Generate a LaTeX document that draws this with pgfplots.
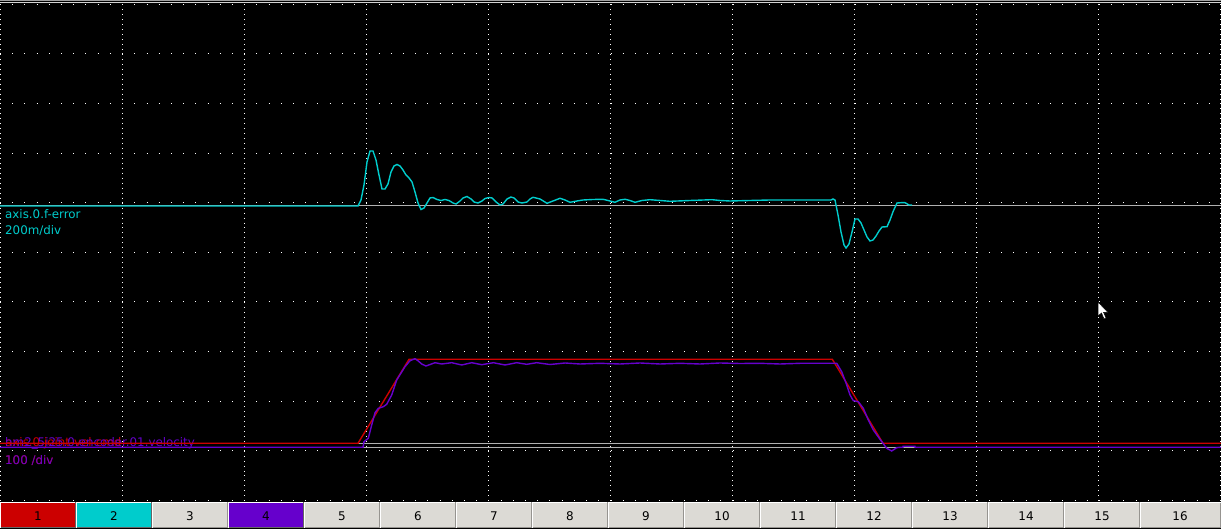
\documentclass[border=0pt]{standalone}
\usepackage{fontspec}
\setmainfont{DejaVu Sans}
\usepackage{pgfplots}
\pgfplotsset{compat=1.18}
\definecolor{trcyan}{RGB}{0,204,204}
\definecolor{trred}{RGB}{204,0,0}
\definecolor{trpurple}{RGB}{102,0,204}
\definecolor{zerogray}{RGB}{176,176,176}
\definecolor{btngray}{RGB}{220,218,213}
\definecolor{btnedge}{RGB}{150,148,144}
\tikzset{vgrid/.style={white, line width=1bp, line cap=butt, dash pattern=on 1bp off 3.96bp},
         hgrid/.style={white, line width=1bp, line cap=butt, dash pattern=on 1bp off 11.21bp}}
\newcommand\vg[1]{\draw[vgrid] (axis cs:#1,4.3) -- (axis cs:#1,501);}
\newcommand\hg[1]{\draw[hgrid] (axis cs:0,#1) -- (axis cs:1221,#1);}
\newcommand\btn[6]{% x0, x1, fill, edge, label, center
  \fill[#3] (axis cs:#1,502) rectangle (axis cs:#2,528);
  \draw[#4, line width=1bp] (axis cs:#1,527.5) -- (axis cs:#2,527.5) -- (axis cs:#2,502);
  \draw[white, line width=1bp] (axis cs:#1,527.5) -- (axis cs:#1,502.5) -- (axis cs:#2,502.5);
  \node[anchor=base, text=black, inner sep=0pt, font=\fontsize{12}{14}\selectfont] at (axis cs:#6,520) {#5};
}
\begin{document}
\begin{tikzpicture}[x=1bp,y=1bp]
\fill[black] (0,0) rectangle (1221,529);
\begin{axis}[
  at={(0,0)}, anchor=south west,
  scale only axis, width=1221bp, height=529bp,
  xmin=0, xmax=1221, ymin=0, ymax=529, y dir=reverse,
  axis line style={draw=none},
  xtick=\empty, ytick=\empty,
  clip=true,
]
% top border lines
\draw[color={rgb,255:red,160;green,160;blue,160}, line width=1bp] (axis cs:0,0.5) -- (axis cs:1221,0.5);
\draw[color={rgb,255:red,210;green,210;blue,210}, line width=1bp] (axis cs:0,2.5) -- (axis cs:1221,2.5);

% dotted graticule: 10 x 10 divisions
\vg{0.5}\vg{122.1}\vg{244.2}\vg{366.3}\vg{488.4}\vg{610.5}\vg{732.6}\vg{854.7}\vg{976.8}\vg{1098.9}\vg{1220.5}
\hg{4.3}\hg{53.9}\hg{103.5}\hg{153.1}\hg{202.7}\hg{252.3}\hg{301.9}\hg{351.5}\hg{401.1}\hg{450.7}\hg{500.3}

% channel labels
\node[anchor=base west, inner sep=0pt, text=trcyan, font=\fontsize{11.9}{14}\selectfont] at (axis cs:5,218.3) {axis.0.f-error};
\node[anchor=base west, inner sep=0pt, text=trcyan, font=\fontsize{11.9}{14}\selectfont] at (axis cs:5,235) {200m/div};
\node[anchor=base west, inner sep=0pt, text=trred, font=\fontsize{11.9}{14}\selectfont] at (axis cs:5,446.7) {axis.0.joint-vel-cmd};
\node[anchor=base west, inner sep=0pt, text=trred, font=\fontsize{11.9}{14}\selectfont] at (axis cs:5,465) {100 /div};
\node[anchor=base west, inner sep=0pt, text=trpurple, font=\fontsize{11.9}{14}\selectfont] at (axis cs:5,446.7) {hm2\_5i25.0.encoder.01.velocity};
\node[anchor=base west, inner sep=0pt, text=trpurple, font=\fontsize{11.9}{14}\selectfont] at (axis cs:5,465) {100 /div};

% zero reference lines
\addplot[zerogray, line width=1.2bp] coordinates {(0,205.5) (1221,205.5)};
\addplot[zerogray, line width=1.2bp] coordinates {(0,443.3) (1221,443.3)};
\addplot[zerogray, line width=1.2bp] coordinates {(0,447.3) (1221,447.3)};

% f-error trace
\addplot[trcyan, line width=1.4bp, sharp plot] coordinates {
(0,206) (358,206) (361,200) (364,185) (367,162) (370,151) (373,151) (376,160) (379,175)
(382,189) (385,189) (388,184) (391,172) (394,166) (397,164.5) (400,166) (403,170) (406,175)
(409,178) (412,182) (415,192) (418,203) (421,209.5) (424,208) (427,203) (430,198) (433,197.5)
(437,199.5) (441,200.5) (445,199.5) (449,200.5) (453,203) (456,204) (460,201) (463,198)
(467,196.5) (471,199) (474,202) (478,203) (482,201) (485,198.5) (489,197.5) (492,198)
(496,202) (500,205) (503,204) (507,199) (511,197) (514,198) (518,202) (522,203) (527,202)
(530,199) (533,197.3) (540,199) (547,203.3) (553,201) (560,198.3) (565,200) (570,202.3)
(577,201) (583,200) (593,199.5) (603,199.3) (610,201) (615,202.3) (620,200) (625,199.3)
(630,200.5) (635,202.3) (642,200.5) (650,199.7) (660,200.5) (670,201.3) (690,200.5)
(712,199.7) (720,200.5) (730,201) (750,200.5) (770,200) (800,200) (831,200) (833,199)
(835,200) (838,215) (841,232) (844,245) (846,248) (849,244) (852,232) (855,219) (858,219)
(861,223) (864,230) (867,237) (870,241) (873,240) (876,236) (879,231) (882,227) (887,226.7)
(890,220) (893,211.7) (897,203) (901,202.7) (905,202.7) (909,205) (912,205)
};

% commanded velocity (red)
\addplot[trred, line width=1.4bp, sharp plot] coordinates {
(0,443.3) (358,443.3) (409,359.3) (832.3,359.3) (883,443.3) (1221,443.3)
};

% encoder velocity (purple)
\addplot[trpurple, line width=1.4bp, sharp plot] coordinates {
(0,447.3) (363,447.3) (364,441.7) (368.3,438.3) (371.7,425) (375,412.7) (378.3,408.3)
(383.3,406.7) (386.7,404.3) (391.7,395) (396.7,380) (405,366.7) (410,360.7) (415,358.7)
(418.3,361) (421.7,364) (426,366) (435,362.7) (441.7,364) (451.7,362.7) (461.7,365)
(471.7,362.7) (481.7,364.7) (493.3,362.7) (505,365) (516.7,362.7) (526.7,364.3) (536.7,362.7)
(550,364.5) (565,363) (580,364) (600,363.3) (620,364) (640,363) (660,364) (680,363.3)
(700,364) (720,363) (740,363.5) (760,363.3) (780,364) (800,363.3) (820,363.3) (836.7,363.3)
(841.7,371.7) (846.7,385) (850,395) (853.3,400.7) (858.3,401.7) (863.3,408.3) (868.3,420)
(873.3,430) (880,439.3) (886.7,448.3) (891.7,451) (896.7,447.7) (900,447.3) (903,447.3)
(903,446.3) (915,446.3) (915,447.3) (1221,447.3)
};

% mouse cursor
\filldraw[fill=white, draw=black, line width=0.5bp] (axis cs:1098,302) -- (axis cs:1098,316) -- (axis cs:1101.5,313) -- (axis cs:1104,319) -- (axis cs:1106,318) -- (axis cs:1103.6,312.5) -- (axis cs:1108,312.5) -- cycle;

% channel buttons
\btn{0.5}{75}{trred}{black!60}{1}{38}
\btn{76.5}{151}{trcyan}{black!60}{2}{114}
\btn{152.5}{227}{btngray}{btnedge}{3}{190}
\btn{228.5}{303}{trpurple}{black!60}{4}{266}
\btn{304.5}{379}{btngray}{btnedge}{5}{342}
\btn{380.5}{455}{btngray}{btnedge}{6}{418}
\btn{456.5}{531}{btngray}{btnedge}{7}{494}
\btn{532.5}{607}{btngray}{btnedge}{8}{570}
\btn{608.5}{683}{btngray}{btnedge}{9}{646}
\btn{684.5}{759}{btngray}{btnedge}{10}{722}
\btn{760.5}{835}{btngray}{btnedge}{11}{798}
\btn{836.5}{911}{btngray}{btnedge}{12}{874}
\btn{912.5}{987}{btngray}{btnedge}{13}{950}
\btn{988.5}{1063}{btngray}{btnedge}{14}{1026}
\btn{1064.5}{1139}{btngray}{btnedge}{15}{1102}
\btn{1140.5}{1220.5}{btngray}{btnedge}{16}{1180}
\end{axis}
\pgfresetboundingbox
\path[use as bounding box] (0,0) rectangle (1221,529);
\end{tikzpicture}
\end{document}
